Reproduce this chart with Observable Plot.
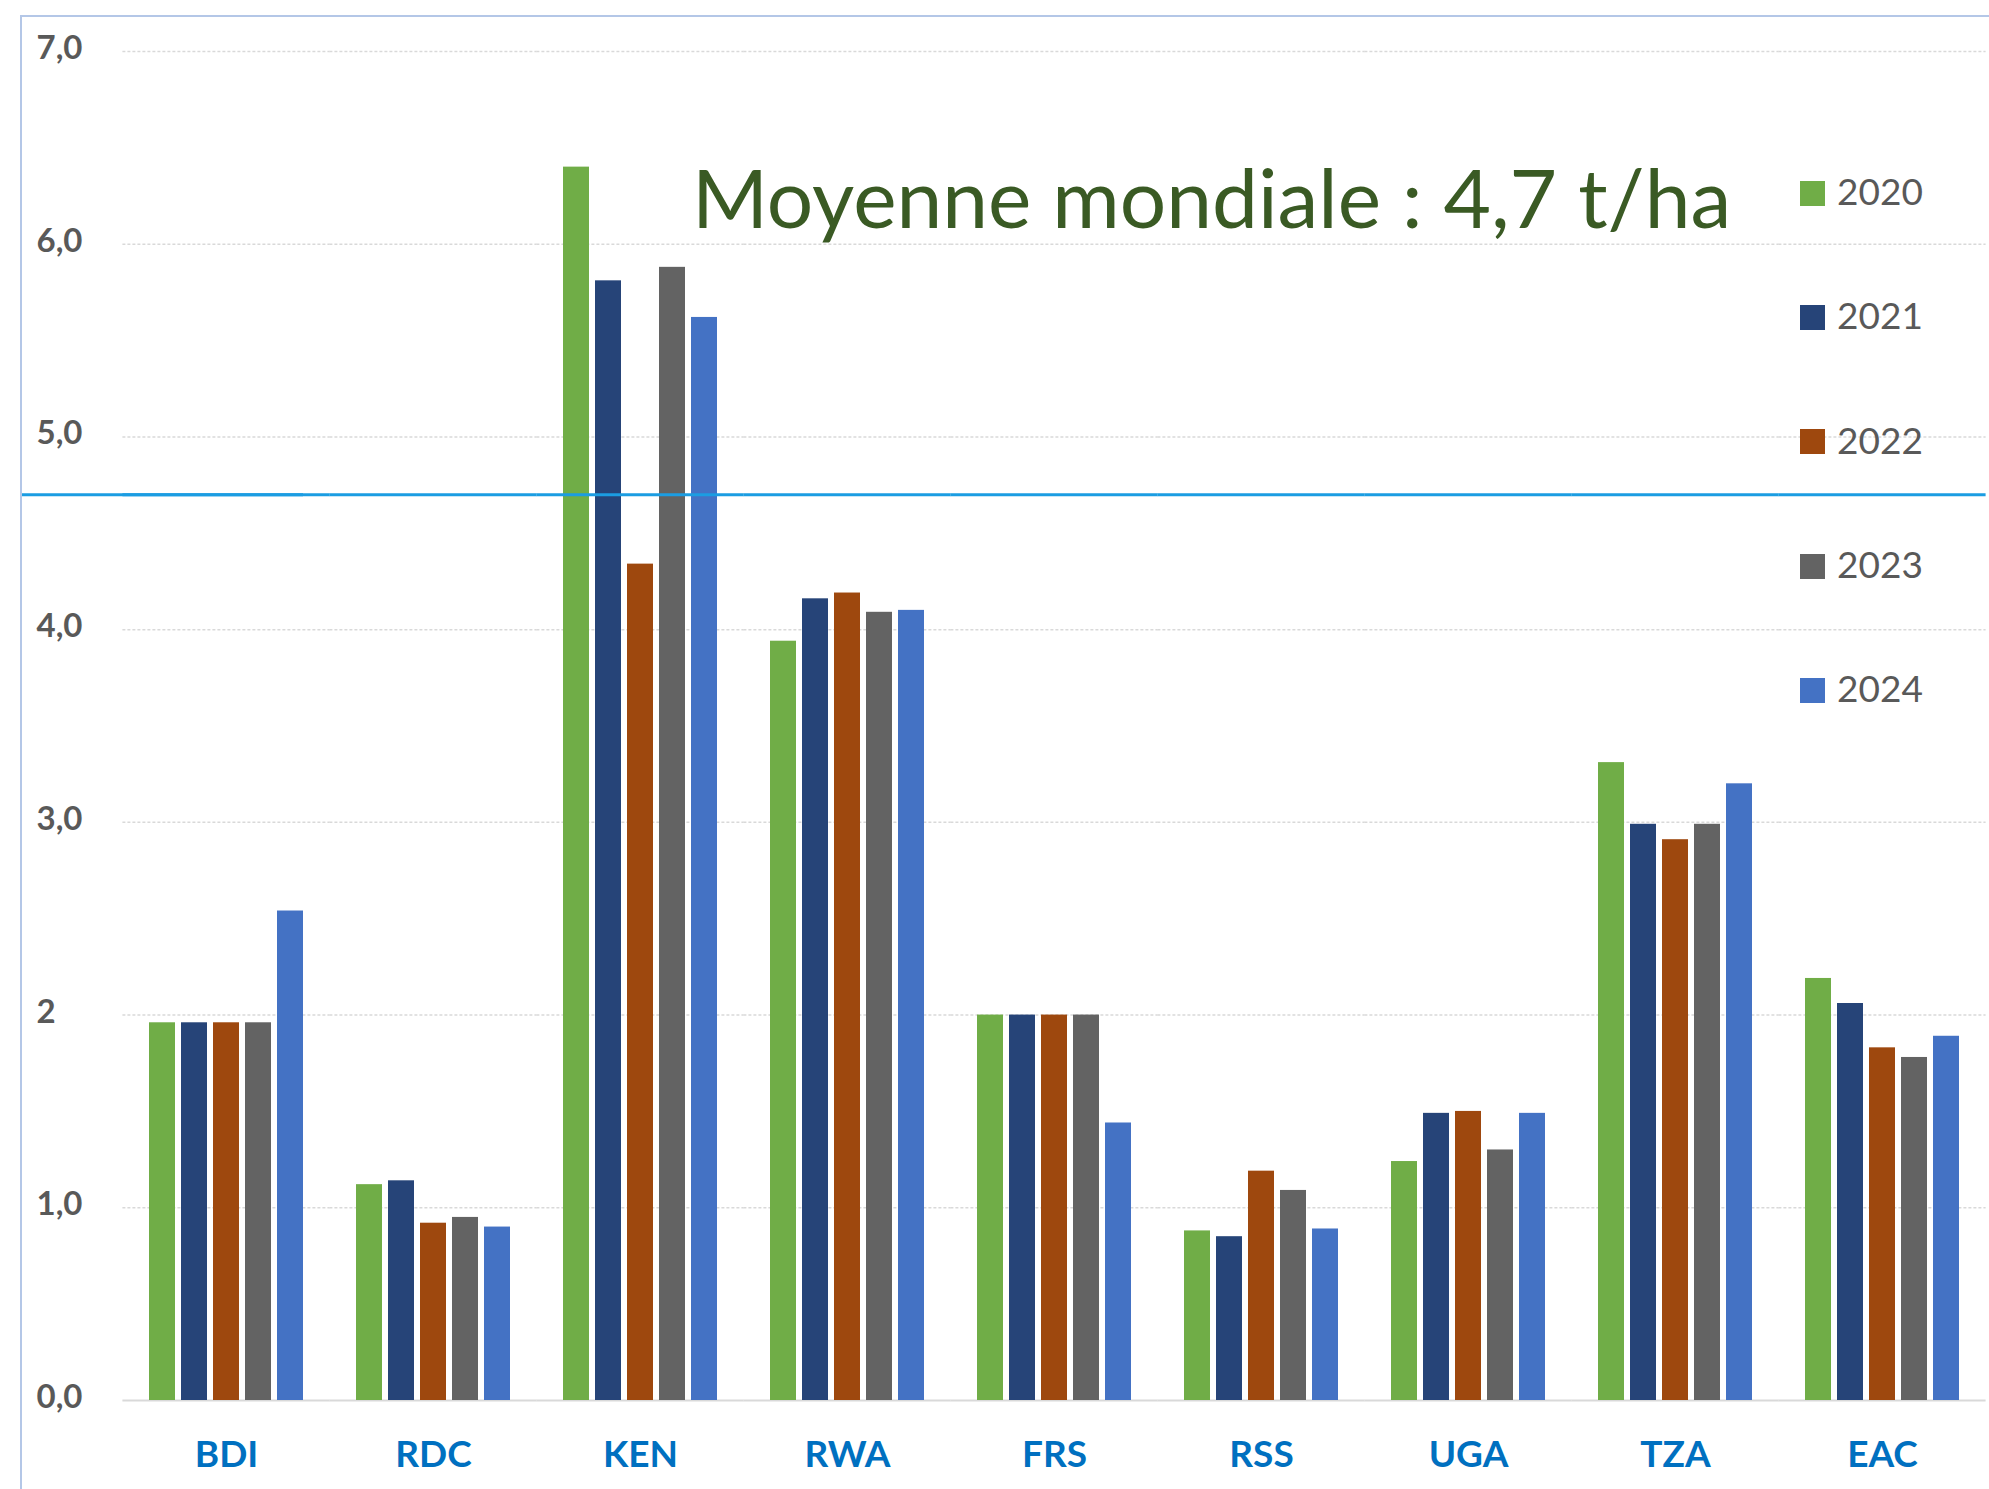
<!DOCTYPE html>
<html>
<head>
<meta charset="utf-8">
<script src="https://cdn.jsdelivr.net/npm/d3@7"></script>
<script src="https://cdn.jsdelivr.net/npm/@observablehq/plot@0.6"></script>
<style>
  html, body { margin: 0; padding: 0; background: #ffffff; }
  #wrap { position: relative; width: 1989px; height: 1489px; overflow: hidden; font-family: Lato, "Open Sans", sans-serif; }
  #chart svg { display: block; }
  #frame { position: absolute; left: 20px; top: 15px; width: 2000px; height: 1500px;
           border-left: 2px solid #b4c7e7; border-top: 2px solid #b4c7e7; pointer-events: none; }
  #title { position: absolute; left: 692px; top: 155px; font-size: 82px; line-height: 82px;
           color: #3a5a24; white-space: nowrap; }
  #legend { position: absolute; left: 1800px; top: 131px; }
  .item { display: flex; align-items: center; height: 124.3px; }
  .sw { width: 25px; height: 25px; margin-right: 12px; }
  .lab { font-size: 37px; color: #595959; line-height: 37px; margin-top: -5px; }
</style>
</head>
<body>
<div id="wrap">
  <div id="chart"></div>
  <div id="frame"></div>
  <div id="title"></div>
  <div id="legend"></div>
</div>
<script>
const countries = ["BDI", "RDC", "KEN", "RWA", "FRS", "RSS", "UGA", "TZA", "EAC"];
const years = ["2020", "2021", "2022", "2023", "2024"];
const yearColors = ["#70ad47", "#264478", "#9e480e", "#636363", "#4472c4"];
const v2020 = [1.96, 1.12, 6.40, 3.94, 2.00, 0.88, 1.24, 3.31, 2.19];
const v2021 = [1.96, 1.14, 5.81, 4.16, 2.00, 0.85, 1.49, 2.99, 2.06];
const v2022 = [1.96, 0.92, 4.34, 4.19, 2.00, 1.19, 1.50, 2.91, 1.83];
const v2023 = [1.96, 0.95, 5.88, 4.09, 2.00, 1.09, 1.30, 2.99, 1.78];
const v2024 = [2.54, 0.90, 5.62, 4.10, 1.44, 0.89, 1.49, 3.20, 1.89];
const worldAverage = 4.7;
const annotation = "Moyenne mondiale : 4,7 t/ha";
const yTicks = [0, 1, 2, 3, 4, 5, 6, 7];
const yTickLabels = ["0,0", "1,0", "2", "3,0", "4,0", "5,0", "6,0", "7,0"];

const series = [v2020, v2021, v2022, v2023, v2024];
const rows = [];
countries.forEach((c, i) => {
  years.forEach((yr, j) => rows.push({country: c, year: yr, value: series[j][i]}));
});

// half of the gap between facet bands, so per-facet rules join into one line
const half = 26.6;

const chart = Plot.plot({
  width: 1989,
  height: 1489,
  marginTop: 51,
  marginBottom: 89,
  marginLeft: 122,
  marginRight: 3,
  style: {fontFamily: "Lato, 'Open Sans', sans-serif", background: "#ffffff"},
  fx: {domain: countries, paddingInner: 0.256, paddingOuter: 0.128, label: null},
  x: {domain: years, paddingInner: 0.1875, paddingOuter: 0, axis: null},
  y: {domain: [0, 7]},
  color: {domain: years, range: yearColors},
  marks: [
    Plot.ruleY(yTicks.filter(d => d > 0), {stroke: "#d9d9d9", strokeWidth: 1.5, strokeDasharray: "3,2", insetLeft: -half, insetRight: -half}),
    Plot.ruleY([0], {stroke: "#d9d9d9", strokeWidth: 2, insetLeft: -half, insetRight: -half}),
    Plot.barY(rows, {fx: "country", x: "year", y: "value", fill: "year"}),
    Plot.ruleY([worldAverage], {stroke: "#1b9de2", strokeWidth: 3, insetLeft: -half, insetRight: -half}),
    Plot.ruleY([worldAverage], {fx: [countries[0]], stroke: "#1b9de2", strokeWidth: 3, insetLeft: -128, insetRight: 0}),
    Plot.axisY(yTicks, {
      tickSize: 0, tickPadding: 113, textAnchor: "start",
      tickFormat: d => yTickLabels[yTicks.indexOf(d)],
      fontSize: 33, fontWeight: "bold", color: "#595959", label: null, dy: -3
    }),
    Plot.axisFx({
      anchor: "bottom", tickSize: 0, tickPadding: 55, lineAnchor: "middle",
      fontSize: 37, fontWeight: "bold", color: "#0070c0", label: null
    })
  ]
});
document.getElementById("chart").appendChild(chart);

document.getElementById("title").textContent = annotation;
const legend = document.getElementById("legend");
years.forEach((yr, j) => {
  const item = document.createElement("div");
  item.className = "item";
  const sw = document.createElement("div");
  sw.className = "sw";
  sw.style.background = yearColors[j];
  const lab = document.createElement("div");
  lab.className = "lab";
  lab.textContent = yr;
  item.appendChild(sw);
  item.appendChild(lab);
  legend.appendChild(item);
});
</script>
</body>
</html>
